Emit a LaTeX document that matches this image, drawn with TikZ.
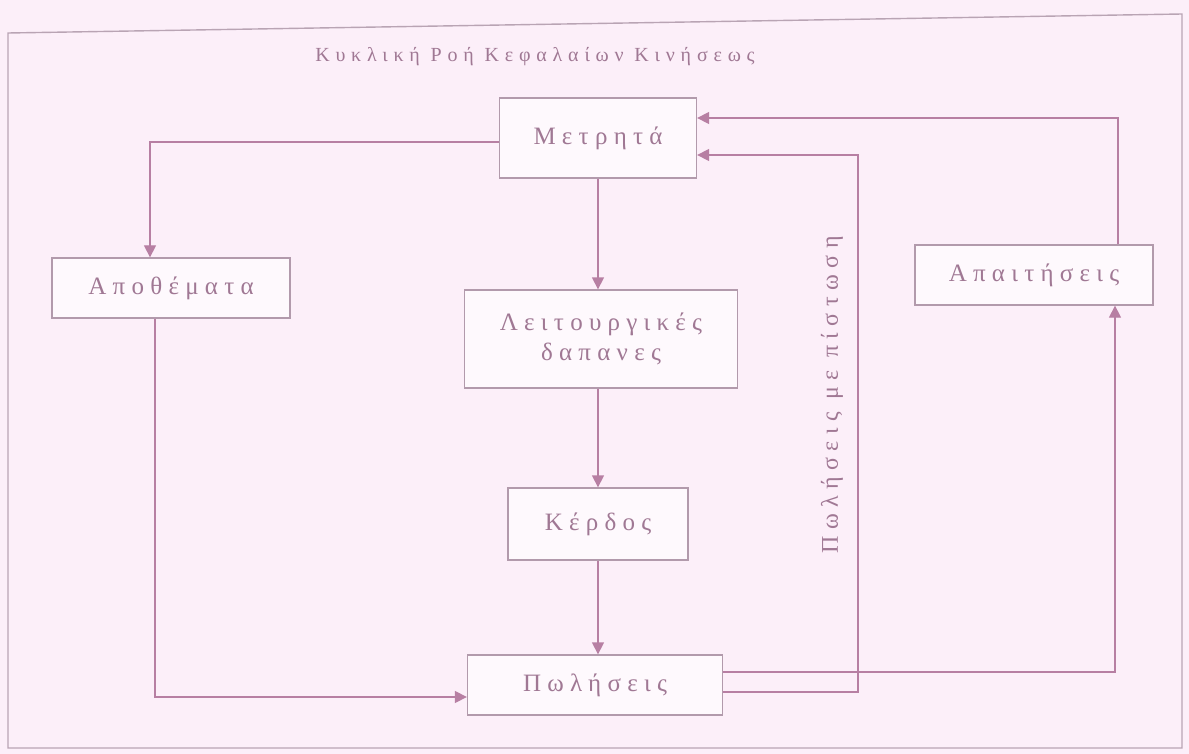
\documentclass[tikz,border=0pt]{standalone}
\usepackage{fontspec}
\setmainfont{Liberation Serif}
\newfontfamily\boxfont[LetterSpace=25]{Liberation Serif}
\newfontfamily\titlefont[LetterSpace=29]{Liberation Serif}
\newfontfamily\sidefont[LetterSpace=27]{Liberation Serif}
\usetikzlibrary{arrows.meta}
\definecolor{bgpink}{HTML}{FCEFF9}
\definecolor{framecol}{HTML}{B9A4B4}
\definecolor{boxcol}{HTML}{B29AAC}
\definecolor{arrcol}{HTML}{B77FA3}
\definecolor{txtcol}{HTML}{A07894}
\tikzset{
  x=1pt,y=-1pt,
  flowbox/.style={draw=boxcol,line width=1.3pt,fill=white!60!bgpink,rectangle,inner sep=0pt,font=\boxfont\fontsize{25}{30}\selectfont,text=txtcol,align=center},
  conn/.style={draw=arrcol,line width=1.3pt,-{Triangle[width=12pt,length=12pt]}}
}
\begin{document}
\begin{tikzpicture}
\useasboundingbox (0,0) rectangle (1189,754);
\fill[bgpink] (0,0) rectangle (1189,754);
\draw[framecol,line width=1.4pt] (8,33) -- (1182,14) -- (1182,748) -- (8,748) -- cycle;
\node[text=txtcol,font=\titlefont\fontsize{20}{24}\selectfont] (title) at (535,57) {Κυκλική Ροή Κεφαλαίων Κινήσεως};
\node[flowbox,minimum width=197pt,minimum height=80pt] (cash) at (598,138) {Μετρητά};
\node[flowbox,minimum width=238pt,minimum height=60pt] (stock) at (171,288) {Αποθέματα};
\node[flowbox,minimum width=273pt,minimum height=98pt] (opex) at (601,339) {Λειτουργικές\\δαπανες};
\node[flowbox,minimum width=238pt,minimum height=60pt] (recv) at (1034,275) {Απαιτήσεις};
\node[flowbox,minimum width=180pt,minimum height=72pt] (profit) at (598,524) {Κέρδος};
\node[flowbox,minimum width=255pt,minimum height=60pt] (sales) at (595,685) {Πωλήσεις};
\coordinate (c1) at (150,142);
\coordinate (c2) at (155,697);
\coordinate (c3) at (1115,672);
\coordinate (c4) at (858,692);
\coordinate (c5) at (858,155);
\coordinate (c6) at (1118,118);
\draw[conn] (cash.west |- c1) -| (stock.north -| c1);
\draw[conn] (cash.south) -- (opex.north -| cash.south);
\draw[conn] (opex.south -| cash.south) -- (profit.north);
\draw[conn] (profit.south) -- (sales.north -| profit.south);
\draw[conn] (stock.south -| c2) -- (c2) -- (sales.west |- c2);
\draw[conn] (sales.east |- c3) -| (recv.south -| c3);
\draw[conn] (sales.east |- c4) -- (c4) -- (c5) -- (cash.east |- c5);
\draw[conn] (recv.north -| c6) -- (c6) -- (cash.east |- c6);
\node[rotate=90,text=txtcol,font=\sidefont\fontsize{24}{28}\selectfont] (credit) at (832,395) {Πωλήσεις με πίστωση};
\end{tikzpicture}
\end{document}
